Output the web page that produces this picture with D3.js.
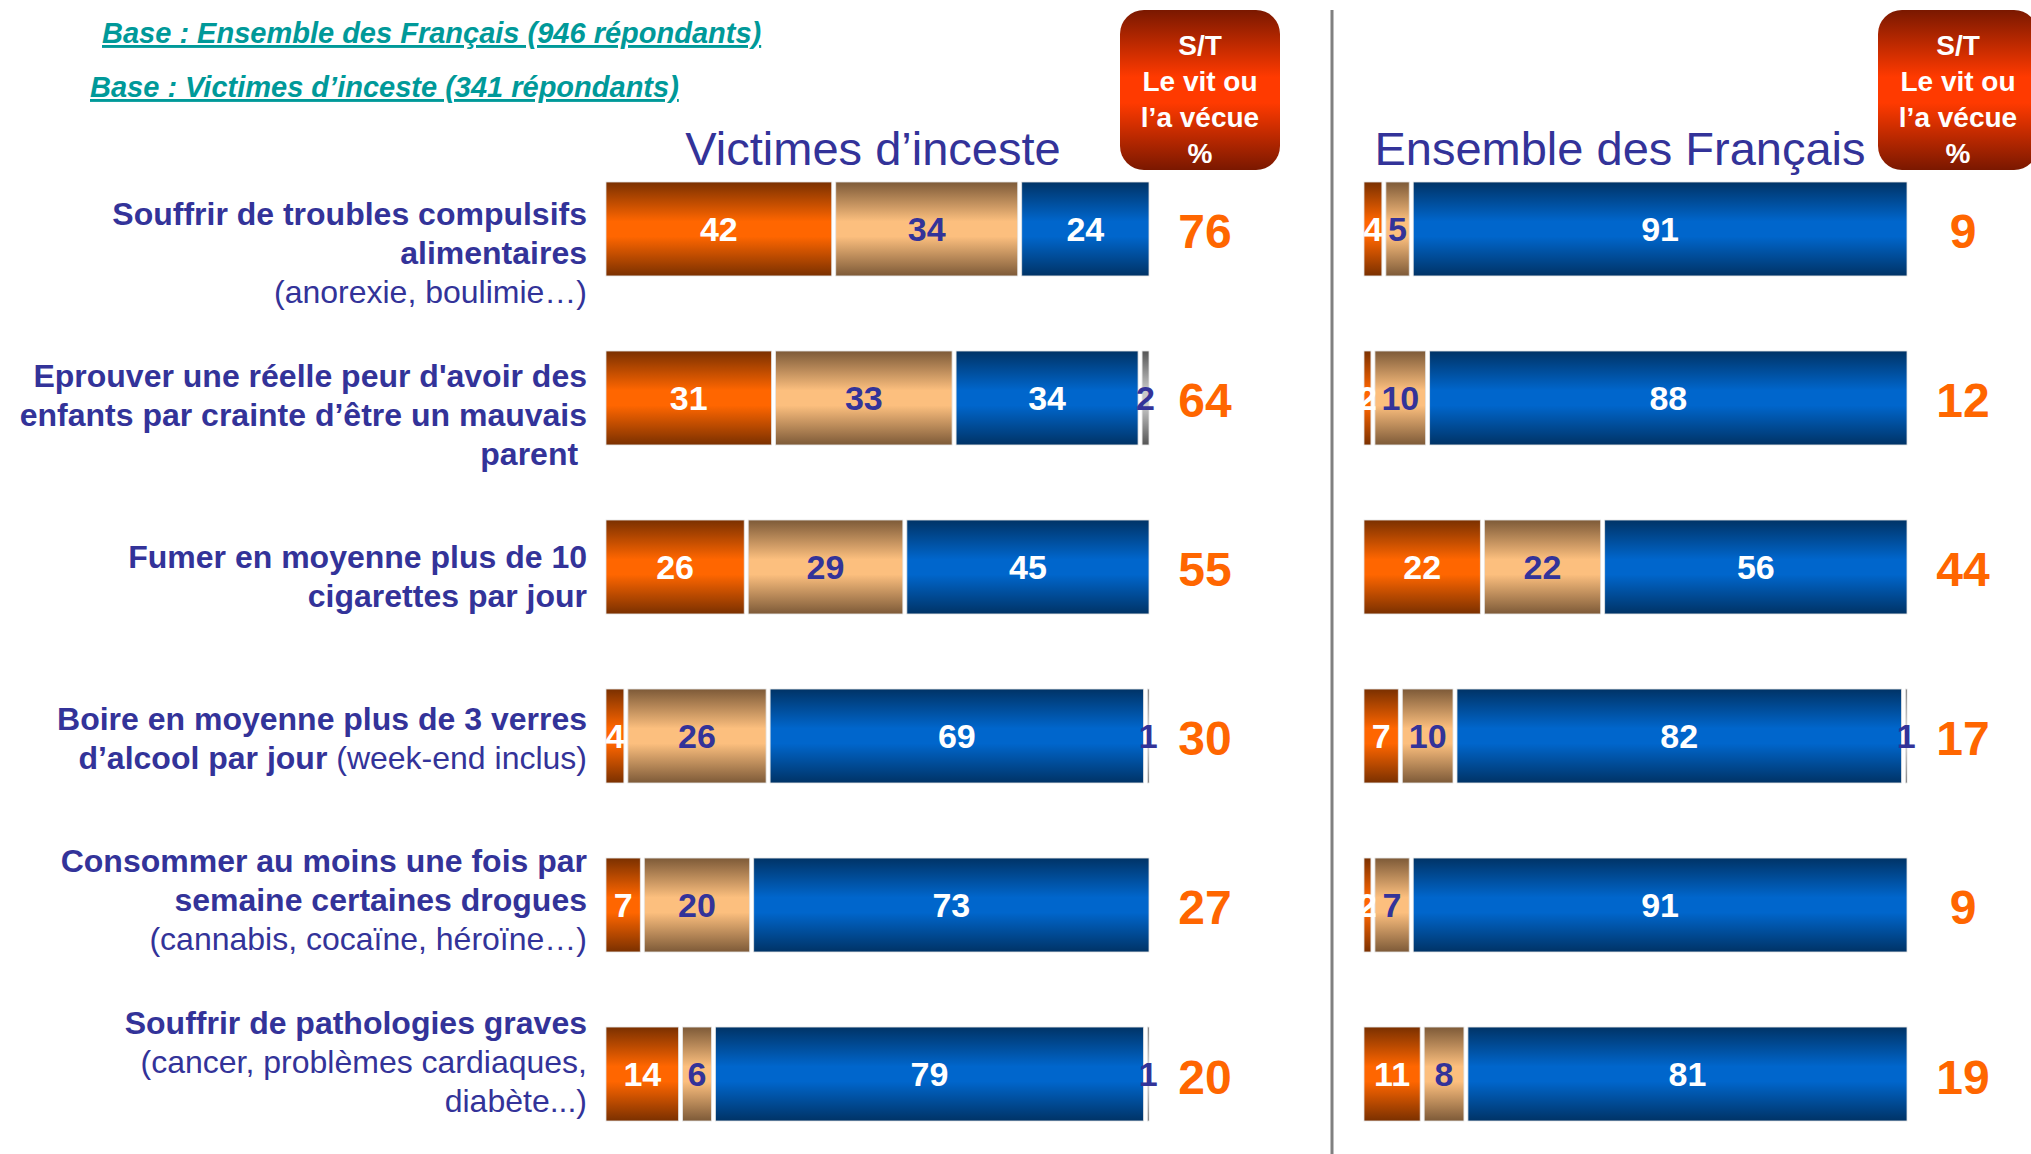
<!DOCTYPE html>
<html>
<head>
<meta charset="utf-8">
<script src="https://cdn.jsdelivr.net/npm/d3@7"></script>
<style>
  html, body { margin: 0; padding: 0; background: #fff; }
  svg { display: block; font-family: Arial, "Liberation Sans", sans-serif; }
</style>
</head>
<body>
<div class="canvas"></div>
<script>
// rows of the chart, each label is a list of lines, each line a list of [text, bold]
const labels = [
    [[['Souffrir de troubles compulsifs', true]], [['alimentaires', true]], [['(anorexie, boulimie…)', false]]],
    [[['Eprouver une réelle peur d\'avoir des', true]], [['enfants par crainte d’être un mauvais', true]], [['parent ', true]]],
    [[['Fumer en moyenne plus de 10', true]], [['cigarettes par jour', true]]],
    [[['Boire en moyenne plus de 3 verres', true]], [['d’alcool par jour', true], [' (week-end inclus)', false]]],
    [[['Consommer au moins une fois par', true]], [['semaine certaines drogues', true]], [['(cannabis, cocaïne, héroïne…)', false]]],
    [[['Souffrir de pathologies graves', true]], [['(cancer, problèmes cardiaques,', false]], [['diabète...)', false]]]
];

// segments: actuellement / dans le passé / jamais / nsp
const segments = ['now', 'past', 'never', 'nsp'];

const victimes = [
    [42, 34, 24, 0],
    [31, 33, 34, 2],
    [26, 29, 45, 0],
    [4, 26, 69, 1],
    [7, 20, 73, 0],
    [14, 6, 79, 1]
];
const victimesTotal = [76, 64, 55, 30, 27, 20];

const ensemble = [
    [4, 5, 91, 0],
    [2, 10, 88, 0],
    [22, 22, 56, 0],
    [7, 10, 82, 1],
    [2, 7, 91, 0],
    [11, 8, 81, 0]
];
const ensembleTotal = [9, 12, 44, 17, 9, 19];

const panelTitles = ['Victimes d’inceste', 'Ensemble des Français'];
const baseNotes = ['Base : Ensemble des Français (946 répondants)', 'Base : Victimes d’inceste (341 répondants)'];
const boxLines = ['S/T', 'Le vit ou', 'l’a vécue', '%'];

const W = 2031, H = 1154;
const navy = '#333399';
const orange = '#ff6600';

const svg = d3.select('.canvas')
    .append('svg')
    .attr('width', W)
    .attr('height', H);

// gradients for the segments (dark - bright - dark, vertical)
const defs = svg.append('defs');
const grads = {
    now: ['#7a3000', '#ff6600'],
    past: ['#7d5a38', '#fcbf7e'],
    never: ['#003366', '#0066cc'],
    nsp: ['#555555', '#c8c8c8'],
    box: ['#7a1800', '#ff3a00']
};
Object.entries(grads).forEach(([k, c]) => {
    const g = defs.append('linearGradient')
        .attr('id', 'g-' + k)
        .attr('x1', 0).attr('y1', 0).attr('x2', 0).attr('y2', 1);
    g.append('stop').attr('offset', '0%').attr('stop-color', c[0]);
    g.append('stop').attr('offset', '42%').attr('stop-color', c[1]);
    g.append('stop').attr('offset', '58%').attr('stop-color', c[1]);
    g.append('stop').attr('offset', '100%').attr('stop-color', c[0]);
});

const labelColor = { now: '#fff', past: navy, never: '#fff', nsp: navy };

// scales
const y = d3.scaleBand()
    .domain(d3.range(labels.length))
    .range([182, 1121])
    .paddingInner(0.444);

const yLabel = d3.scaleLinear()
    .domain([0, labels.length - 1])
    .range([253, 1062]);

const xLeft = d3.scaleLinear().domain([0, 100]).range([604, 1151]);
const xRight = d3.scaleLinear().domain([0, 100]).range([1362, 1909]);

// base notes at top left
svg.selectAll('text.base')
    .data(baseNotes)
    .enter()
    .append('text')
    .attr('class', 'base')
    .attr('x', (d, i) => i === 0 ? 102 : 90)
    .attr('y', (d, i) => i === 0 ? 43 : 97)
    .attr('fill', '#009999')
    .style('font-size', '29px')
    .style('font-weight', 'bold')
    .style('font-style', 'italic')
    .style('text-decoration', 'underline')
    .text(d => d);

// divider
svg.append('line')
    .attr('x1', 1332).attr('x2', 1332)
    .attr('y1', 10).attr('y2', H)
    .attr('stroke', '#808080')
    .attr('stroke-width', 3);

// category labels
const lab = svg.append('g');
labels.forEach((lines, r) => {
    lines.forEach((parts, i) => {
        const t = lab.append('text')
            .attr('x', 587)
            .attr('y', yLabel(r) + (i - (lines.length - 1) / 2) * 39)
            .attr('text-anchor', 'end')
            .attr('dominant-baseline', 'central')
            .attr('fill', navy)
            .style('font-size', '32px')
            .style('white-space', 'pre');
        parts.forEach(p => {
            t.append('tspan')
                .style('font-weight', p[1] ? 'bold' : 'normal')
                .text(p[0]);
        });
    });
});

function drawPanel(data, totals, x, title, titleX) {
    const g = svg.append('g');

    g.append('text')
        .attr('x', titleX)
        .attr('y', 165)
        .attr('text-anchor', 'middle')
        .attr('fill', navy)
        .style('font-size', '47px')
        .text(title);

    const rows = g.selectAll('g.row')
        .data(data)
        .enter()
        .append('g')
        .attr('class', 'row')
        .attr('transform', (d, i) => `translate(0, ${y(i)})`);

    const stack = d => {
        let acc = 0;
        return d.map((v, k) => {
            const s = { key: segments[k], v: v, x0: acc, x1: acc + v };
            acc += v;
            return s;
        }).filter(s => s.v > 0);
    };

    // all rects first, then the labels so small ones stay visible
    rows.selectAll('rect.seg')
        .data(stack)
        .enter()
        .append('rect')
        .attr('class', 'seg')
        .attr('x', s => x(s.x0) + 2)
        .attr('width', s => Math.max(x(s.x1) - x(s.x0) - 4, 1.5))
        .attr('y', 0)
        .attr('height', y.bandwidth())
        .attr('fill', s => `url(#g-${s.key})`)
        .attr('stroke', '#e4e4e4')
        .attr('stroke-width', 0.8);

    rows.selectAll('text.seg')
        .data(stack)
        .enter()
        .append('text')
        .attr('class', 'seg')
        .attr('x', s => (x(s.x0) + x(s.x1)) / 2)
        .attr('y', y.bandwidth() / 2)
        .attr('text-anchor', 'middle')
        .attr('dominant-baseline', 'central')
        .attr('fill', s => labelColor[s.key])
        .style('font-size', '34px')
        .style('font-weight', 'bold')
        .text(s => s.v);

    // totals column
    const tx = x(100) + 54;
    rows.append('text')
        .attr('x', tx)
        .attr('y', y.bandwidth() / 2 + 3)
        .attr('text-anchor', 'middle')
        .attr('dominant-baseline', 'central')
        .attr('fill', orange)
        .style('font-size', '48px')
        .style('font-weight', 'bold')
        .text((d, i) => totals[i]);

    // S/T box above the totals
    const box = g.append('g').attr('transform', `translate(${tx - 85}, 10)`);
    box.append('rect')
        .attr('width', 160)
        .attr('height', 160)
        .attr('rx', 24)
        .attr('fill', 'url(#g-box)');
    box.selectAll('text')
        .data(boxLines)
        .enter()
        .append('text')
        .attr('x', 80)
        .attr('y', (d, i) => 35 + i * 36)
        .attr('text-anchor', 'middle')
        .attr('dominant-baseline', 'central')
        .attr('fill', '#fff')
        .style('font-size', '28px')
        .style('font-weight', 'bold')
        .text(d => d);
}

drawPanel(victimes, victimesTotal, xLeft, panelTitles[0], 873);
drawPanel(ensemble, ensembleTotal, xRight, panelTitles[1], 1620);
</script>
</body>
</html>
